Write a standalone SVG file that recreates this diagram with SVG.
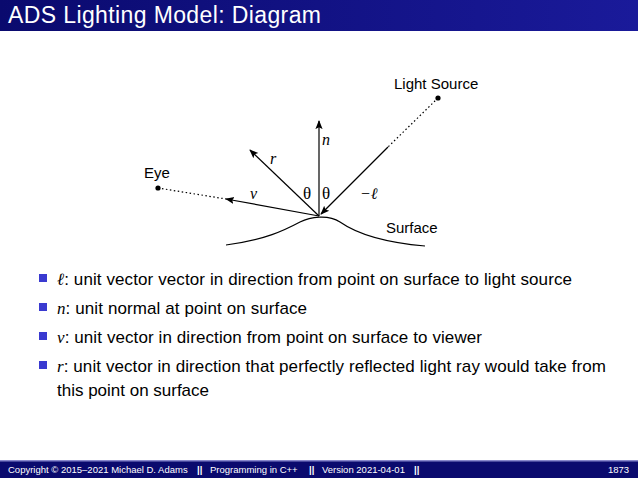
<svg xmlns="http://www.w3.org/2000/svg" width="638" height="478" viewBox="0 0 638 478">
<defs>
<marker id="ah" viewBox="0 0 10 10" refX="9" refY="5" markerWidth="9" markerHeight="9" markerUnits="userSpaceOnUse" orient="auto"><path d="M0,1 L10,5 L0,9 L2,5 Z" fill="#000"/></marker>
<linearGradient id="hg" x1="0" x2="1"><stop offset="0" stop-color="#0a0a6e"/><stop offset="1" stop-color="#1a1a9a"/></linearGradient>
</defs>
<style>
.s{font-family:"Liberation Sans",Arial,sans-serif}
.m{font-family:"Liberation Serif","Times New Roman",serif;font-style:italic}
.b{fill:#3a3ad0}
.ln{stroke:#000;stroke-width:1.2;fill:none}
.dt{stroke:#000;stroke-width:1.2;stroke-dasharray:1.5 2.5;fill:none}
</style>
<rect width="638" height="478" fill="#fff"/>
<rect x="0" y="0" width="638" height="31" fill="url(#hg)"/>
<text x="8" y="23" class="s" font-size="23" fill="#fff" textLength="313">ADS Lighting Model: Diagram</text>
<g id="connectors">
<line class="ln" x1="319" y1="216" x2="319" y2="121" marker-end="url(#ah)"/>
<line class="ln" x1="319" y1="216" x2="250" y2="150" marker-end="url(#ah)"/>
<line class="ln" x1="319" y1="216" x2="226" y2="199" marker-end="url(#ah)"/>
<line class="ln" x1="388" y1="147" x2="321" y2="214" marker-end="url(#ah)"/>
<line class="dt" x1="438" y1="98" x2="388" y2="147"/>
<line class="dt" x1="158" y1="188" x2="226" y2="199"/>
</g>
<g id="surface"><path class="ln" d="M226,245 C265,240 285,230 300,222 C310,217 328,214 340,222 C360,236 390,243 425,246"/>
<text x="386" y="233" class="s" font-size="15">Surface</text></g>
<g id="eye"><circle cx="158" cy="188" r="2.6"/><text x="144" y="178" class="s" font-size="15">Eye</text></g>
<g id="light"><circle cx="438" cy="98" r="2.6"/><text x="394" y="89" class="s" font-size="15">Light Source</text></g>
<g id="labels">
<text x="322" y="145" class="m" font-size="16">n</text>
<text x="270" y="164" class="m" font-size="16">r</text>
<text x="250" y="199" class="m" font-size="16">v</text>
<text x="303" y="199" font-family="Liberation Serif,serif" font-size="17">θ</text>
<text x="322" y="199" font-family="Liberation Serif,serif" font-size="17">θ</text>
<text x="360" y="199" class="m" font-size="16">−ℓ</text>
</g>
<g id="bullets" class="s" font-size="17">
<rect class="b" x="39" y="274" width="8" height="8"/><text x="57" y="285" textLength="515"><tspan class="m">ℓ</tspan>: unit vector vector in direction from point on surface to light source</text>
<rect class="b" x="39" y="303" width="8" height="8"/><text x="57" y="314" textLength="250"><tspan class="m">n</tspan>: unit normal at point on surface</text>
<rect class="b" x="39" y="332" width="8" height="8"/><text x="57" y="343" textLength="425"><tspan class="m">v</tspan>: unit vector in direction from point on surface to viewer</text>
<rect class="b" x="39" y="361" width="8" height="8"/><text x="57" y="372" textLength="549"><tspan class="m">r</tspan>: unit vector in direction that perfectly reflected light ray would take from</text>
<text x="57" y="396" textLength="152">this point on surface</text>
</g>
<g id="footer">
<rect x="0" y="461" width="638" height="17" fill="#0a0a6e"/>
<rect x="0" y="460" width="638" height="1.5" fill="#8888cc"/>
<text y="473" class="s" font-size="9.5" fill="#fff"><tspan x="8">Copyright © 2015–2021 Michael D. Adams</tspan><tspan x="197" font-weight="bold">||</tspan><tspan x="210">Programming in C++</tspan><tspan x="309" font-weight="bold">||</tspan><tspan x="322">Version 2021-04-01</tspan><tspan x="414" font-weight="bold">||</tspan><tspan x="608">1873</tspan></text>
</g>
</svg>
